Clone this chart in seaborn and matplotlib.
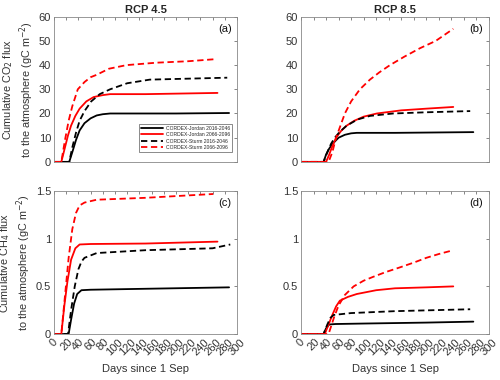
import numpy as np
import pandas as pd
import seaborn as sns
import matplotlib.pyplot as plt

sns.set_theme(style="white")
plt.rcParams['font.family'] = ['Liberation Sans', 'DejaVu Sans']

labels = ["CORDEX-Jordan 2016-2046", "CORDEX-Jordan 2066-2096",
          "CORDEX-Sturm 2016-2046", "CORDEX-Sturm 2066-2096"]

# (a) CO2, RCP 4.5
a_jor_near_x = [0, 25, 30, 36, 42, 50, 60, 70, 80, 92, 120, 200, 287]
a_jor_near_y = [0, 0, 4, 9, 13, 16, 18, 19.2, 19.7, 20, 20, 20, 20.2]
a_jor_far_x = [0, 12, 18, 23, 28, 35, 42, 53, 65, 80, 92, 150, 268]
a_jor_far_y = [0, 0, 6, 11, 15, 19, 22, 25, 26.8, 27.6, 28, 28, 28.5]
a_stu_near_x = [0, 25, 30, 36, 42, 50, 61, 75, 92, 120, 157, 220, 284]
a_stu_near_y = [0, 0, 6, 12, 17, 21, 25, 28, 30, 32.5, 34, 34.4, 34.8]
a_stu_far_x = [0, 12, 18, 24, 30, 39, 50, 60, 70, 90, 119, 168, 220, 267]
a_stu_far_y = [0, 0, 9, 17, 23, 30, 33, 35, 36, 38.5, 40, 41, 41.6, 42.5]

# (b) CO2, RCP 8.5
b_jor_near_x = [0, 36, 40, 45, 49, 55, 60, 70, 80, 89, 150, 275]
b_jor_near_y = [0, 0, 3, 5.5, 7, 8.7, 10, 11.2, 11.8, 12, 12, 12.3]
b_jor_far_x = [0, 40, 45, 50, 56, 64, 73, 85, 100, 121, 160, 200, 243]
b_jor_far_y = [0, 0, 3, 6.5, 10, 12.8, 15, 17, 18.7, 20, 21.3, 22, 22.7]
b_stu_near_x = [0, 36, 42, 48, 54, 62, 73, 90, 110, 147, 200, 270]
b_stu_near_y = [0, 0, 4, 7.5, 10, 12.5, 15, 17.5, 19, 20, 20.5, 21]
b_stu_far_x = [0, 44, 50, 56, 63, 70, 80, 94, 110, 125, 142, 165, 190, 215, 243]
b_stu_far_y = [0, 0, 4, 10, 15, 20, 25, 30, 34, 37, 40, 43.5, 47, 50, 55]

# (c) CH4, RCP 4.5
c_jor_near_x = [0, 24, 28, 33, 38, 45, 60, 150, 287]
c_jor_near_y = [0, 0, 0.15, 0.32, 0.42, 0.46, 0.465, 0.475, 0.49]
c_jor_far_x = [0, 12, 17, 22, 28, 35, 42, 60, 150, 268]
c_jor_far_y = [0, 0, 0.3, 0.55, 0.78, 0.9, 0.94, 0.945, 0.95, 0.97]
c_stu_near_x = [0, 23, 28, 34, 40, 45, 50, 70, 150, 260, 289]
c_stu_near_y = [0, 0, 0.25, 0.5, 0.68, 0.76, 0.8, 0.85, 0.88, 0.9, 0.94]
c_stu_far_x = [0, 12, 18, 24, 30, 36, 42, 50, 70, 150, 261]
c_stu_far_y = [0, 0, 0.4, 0.8, 1.1, 1.27, 1.35, 1.38, 1.41, 1.43, 1.47]

# (d) CH4, RCP 8.5
d_jor_near_x = [0, 36, 40, 45, 55, 100, 200, 275]
d_jor_near_y = [0, 0, 0.06, 0.1, 0.105, 0.11, 0.12, 0.13]
d_jor_far_x = [0, 38, 44, 50, 56, 62, 75, 89, 120, 150, 200, 243]
d_jor_far_y = [0, 0, 0.1, 0.2, 0.29, 0.35, 0.39, 0.42, 0.46, 0.48, 0.49, 0.5]
d_stu_near_x = [0, 36, 42, 47, 52, 80, 150, 270]
d_stu_near_y = [0, 0, 0.1, 0.17, 0.2, 0.22, 0.24, 0.26]
d_stu_far_x = [0, 44, 48, 53, 60, 70, 84, 100, 115, 135, 158, 180, 200, 220, 243]
d_stu_far_y = [0, 0, 0.08, 0.18, 0.3, 0.41, 0.5, 0.56, 0.6, 0.65, 0.7, 0.75, 0.8, 0.84, 0.88]

panels = [
    ([a_jor_near_x, a_jor_far_x, a_stu_near_x, a_stu_far_x],
     [a_jor_near_y, a_jor_far_y, a_stu_near_y, a_stu_far_y]),
    ([b_jor_near_x, b_jor_far_x, b_stu_near_x, b_stu_far_x],
     [b_jor_near_y, b_jor_far_y, b_stu_near_y, b_stu_far_y]),
    ([c_jor_near_x, c_jor_far_x, c_stu_near_x, c_stu_far_x],
     [c_jor_near_y, c_jor_far_y, c_stu_near_y, c_stu_far_y]),
    ([d_jor_near_x, d_jor_far_x, d_stu_near_x, d_stu_far_x],
     [d_jor_near_y, d_jor_far_y, d_stu_near_y, d_stu_far_y]),
]
colors = ["black", "red", "black", "red"]
styles = ["-", "-", (0, (3.5, 2)), (0, (3.5, 2))]
txt = "#333333"
fs = 8

fig = plt.figure(figsize=(5, 3.8), dpi=100)
pos = [[0.108, 0.574, 0.366, 0.382], [0.602, 0.574, 0.376, 0.382],
       [0.108, 0.121, 0.366, 0.376], [0.602, 0.121, 0.376, 0.376]]
letters = ["(a)", "(b)", "(c)", "(d)"]

for i, (xs, ys) in enumerate(panels):
    ax = fig.add_axes(pos[i])
    for k in range(4):
        df = pd.DataFrame({"x": xs[k], "y": ys[k]})
        sns.lineplot(data=df, x="x", y="y", ax=ax, color=colors[k],
                     linestyle=styles[k], linewidth=1.3, sort=False,
                     estimator=None, label=labels[k])
    ax.set_xlim(0, 300)
    ax.set_xticks(np.arange(0, 301, 20))
    if i < 2:
        ax.set_ylim(0, 60)
        ax.set_yticks(np.arange(0, 61, 10))
        ax.set_xticklabels([])
        ax.set_xlabel("")
    else:
        ax.set_ylim(0, 1.5)
        ax.set_yticks([0, 0.5, 1, 1.5])
        ax.set_yticklabels(["0", "0.5", "1", "1.5"])
        ax.set_xticklabels([str(v) for v in range(0, 301, 20)], rotation=45,
                           ha="center", va="top", rotation_mode="default")
        ax.set_xlabel("Days since 1 Sep", fontsize=fs, color=txt, labelpad=5)
    ax.set_ylabel("")
    ax.tick_params(direction="in", length=2.5, width=0.5, colors="#555555",
                   labelcolor=txt, labelsize=fs, top=True, right=True, pad=2)
    for s in ax.spines.values():
        s.set_color("#888888")
        s.set_linewidth(0.6)
    ax.text(0.97, 0.95, letters[i], transform=ax.transAxes, ha="right",
            va="top", fontsize=fs, color="#111111")
    if i == 0:
        ax.set_title("RCP 4.5", fontsize=fs, fontweight="bold", pad=3)
        ax.set_ylabel("Cumulative CO$_2$ flux\nto the atmosphere (gC m$^{-2}$)",
                      fontsize=7.8, color=txt, labelpad=2, linespacing=1.15)
        ax.legend(loc="lower right", fontsize=3.6, frameon=True,
                  fancybox=False, edgecolor="#333333", handlelength=4.4,
                  borderpad=0.4, labelspacing=0.3, handletextpad=0.6,
                  bbox_to_anchor=(0.985, 0.05)).get_frame().set_linewidth(0.5)
    else:
        ax.get_legend().remove()
    if i == 1:
        ax.set_title("RCP 8.5", fontsize=fs, fontweight="bold", pad=3)
    if i == 2:
        ax.set_ylabel("Cumulative CH$_4$ flux\nto the atmosphere (gC m$^{-2}$)",
                      fontsize=7.8, color=txt, labelpad=2, linespacing=1.15)

fig.savefig("out.png", dpi=100)
